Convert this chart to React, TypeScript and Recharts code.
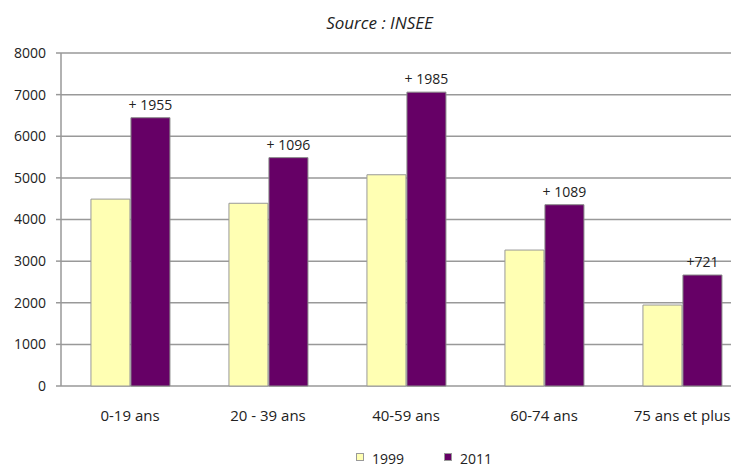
import React from "react";
import { BarChart, Bar, XAxis, YAxis, CartesianGrid, Legend, LabelList } from "recharts";

const categories = ["0-19 ans", "20 - 39 ans", "40-59 ans", "60-74 ans", "75 ans et plus"];
const values1999 = [4490, 4390, 5075, 3266, 1945];
const values2011 = [6445, 5486, 7060, 4355, 2666];
const diffLabels = ["+\u00a01955", "+\u00a01096", "+\u00a01985", "+\u00a01089", "+721"];
const yTicks = [0, 1000, 2000, 3000, 4000, 5000, 6000, 7000, 8000];
const edgeTicks = [0, 1, 2, 3, 4, 5];
const seriesNames = ["1999", "2011"];
const title = "Source : INSEE";

const data = categories.map((c, i) => ({
  name: c,
  y1999: values1999[i],
  y2011: values2011[i],
  diff: diffLabels[i],
}));

const FONT = "'Open Sans', sans-serif";
const YELLOW = "#FFFFB3";
const PURPLE = "#660066";
const GRAY = "#999999";

const LegendContent = (props: any) => {
  const payload = props.payload || [];
  return (
    <div style={{ display: "flex", marginLeft: 348, paddingTop: 3, fontFamily: FONT, fontSize: 14, color: "#222" }}>
      {payload.map((p: any, i: number) => (
        <div key={i} style={{ display: "flex", alignItems: "flex-start", marginRight: 40 }}>
          <div style={{ width: 6, height: 6, background: p.color, border: "1px solid #999", marginTop: 1, marginRight: 8 }} />
          <span style={{ lineHeight: "14px" }}>{p.value}</span>
        </div>
      ))}
    </div>
  );
};

export default function App() {
  return (
    <div style={{ position: "relative", width: 731, height: 456, overflow: "hidden", background: "#fff" }}>
      <div
        style={{
          position: "absolute",
          top: 3,
          left: 0,
          width: 743,
          textAlign: "center",
          fontFamily: FONT,
          fontStyle: "italic",
          fontSize: 17,
          color: "#222",
          zIndex: 2,
        }}
      >
        {title}
      </div>
      <BarChart
        width={750}
        height={470}
        data={data}
        margin={{ top: 45, right: 7, left: 0, bottom: 5 }}
        barCategoryGap="21.7%"
        barGap={1}
      >
        <CartesianGrid vertical={false} stroke={GRAY} strokeWidth={1.5} />
        <XAxis
          xAxisId="edge"
          type="number"
          dataKey="none"
          domain={[0, 5]}
          ticks={edgeTicks}
          tick={false}
          tickSize={6}
          height={0}
          stroke={GRAY}
          axisLine={{ stroke: GRAY, strokeWidth: 1.5 }}
          tickLine={{ stroke: GRAY, strokeWidth: 1.5 }}
          allowDataOverflow
        />
        <XAxis
          xAxisId="cat"
          dataKey="name"
          height={63}
          axisLine={false}
          tickLine={false}
          tickSize={6}
          tickMargin={18}
          interval={0}
          tick={{ fontFamily: FONT, fontSize: 15, fill: "#222" }}
        />
        <YAxis
          domain={[0, 8000]}
          ticks={yTicks}
          width={53}
          tickSize={5}
          tickMargin={10}
          interval={0}
          axisLine={{ stroke: GRAY, strokeWidth: 1.5 }}
          tickLine={{ stroke: GRAY, strokeWidth: 1.5 }}
          tick={{ fontFamily: FONT, fontSize: 14, fill: "#222" }}
        />
        <Legend height={24} verticalAlign="bottom" content={<LegendContent />} />
        <Bar xAxisId="cat" dataKey="y1999" name={seriesNames[0]} fill={YELLOW} stroke={GRAY} strokeWidth={1} isAnimationActive={false} />
        <Bar xAxisId="cat" dataKey="y2011" name={seriesNames[1]} fill={PURPLE} stroke="#888" strokeWidth={1} isAnimationActive={false}>
          <LabelList dataKey="diff" position="top" offset={8} style={{ fontFamily: FONT, fontSize: 14, fill: "#222" }} />
        </Bar>
      </BarChart>
    </div>
  );
}
